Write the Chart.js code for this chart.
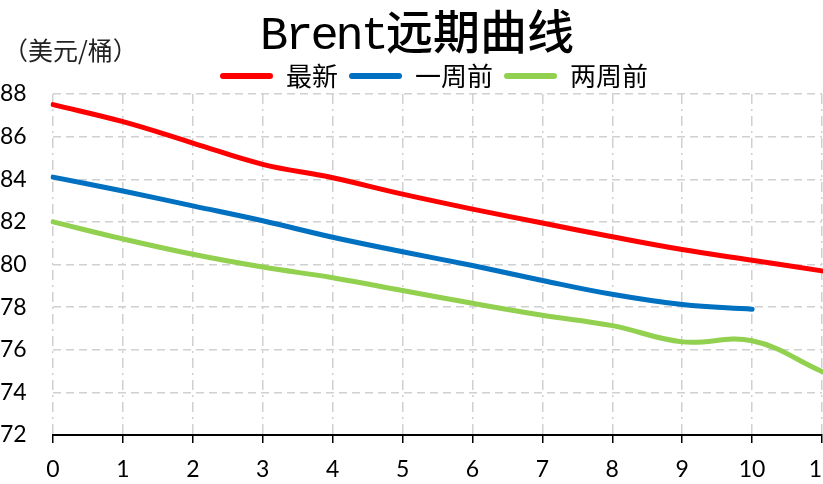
<!DOCTYPE html>
<html>
<head>
<meta charset="utf-8">
<script src="https://cdn.jsdelivr.net/npm/chart.js@4/dist/chart.umd.min.js"></script>
<style>
  html, body { margin: 0; padding: 0; background: #fff; overflow: hidden; width: 823px; height: 484px; }
  #wrap { position: absolute; left: 0; top: 0; width: 850px; height: 484px; }
  #title { position: absolute; top: 4px; left: 0; width: 834px; line-height: 50px; text-align: center; white-space: nowrap; color: #000; }
  #title .lat { font-family: "Liberation Mono", monospace; font-size: 47px; letter-spacing: -3px; }
  #title .cjk { font-family: "Noto Sans CJK SC", sans-serif; font-size: 47px; font-weight: 500; }
  #unit { position: absolute; left: 3px; top: 31px; font-family: "Noto Sans CJK SC", sans-serif; font-size: 25px; color: #222; }
</style>
</head>
<body>
<div id="wrap"><canvas id="chart"></canvas></div>
<div id="title"><span class="lat">Brent</span><span class="cjk">远期曲线</span></div>
<div id="unit">（美元/桶）</div>
<script>
// months ahead on the forward curve
const months = ['0', '1', '2', '3', '4', '5', '6', '7', '8', '9', '10', '11'];
const seriesNames = ['最新', '一周前', '两周前'];
const seriesColors = ['#ff0000', '#0070c0', '#92d050'];

// USD per barrel
const latest = [87.5, 86.7, 85.7, 84.7, 84.07, 83.3, 82.6, 81.95, 81.3, 80.7, 80.2, 79.7];
const oneWeekAgo = [84.1, 83.45, 82.75, 82.05, 81.28, 80.6, 79.95, 79.25, 78.6, 78.12, 77.9];
const twoWeeksAgo = [82.0, 81.2, 80.48, 79.88, 79.38, 78.78, 78.18, 77.62, 77.13, 76.37, 76.42, 74.98];

const yMin = 72, yMax = 88, yStep = 2;

const tickFont = { family: 'Lato, "Noto Sans", sans-serif', size: 23 };
const gridGray = '#d0d0d0';

const makeSet = (label, data, color) => ({
    label, data,
    borderColor: color, backgroundColor: color,
    borderWidth: 5, pointRadius: 0, pointHoverRadius: 0,
    tension: 0.4, fill: false, borderCapStyle: 'round', borderJoinStyle: 'round'
});

// nudge the legend right/down without touching the plot area
const legendNudge = {
    id: 'legendNudge',
    afterLayout(chart) {
        const lg = chart.legend;
        if (!lg) return;
        lg.left += 23; lg.right += 23;
        lg.top += 5; lg.bottom += 5;
    }
};

new Chart(document.getElementById('chart'), {
    type: 'line',
    data: {
        labels: months,
        datasets: [
            makeSet(seriesNames[0], latest, seriesColors[0]),
            makeSet(seriesNames[1], oneWeekAgo, seriesColors[1]),
            makeSet(seriesNames[2], twoWeeksAgo, seriesColors[2])
        ]
    },
    options: {
        responsive: true, maintainAspectRatio: false, animation: false,
        layout: { padding: { top: 47, right: 28, left: 0, bottom: 0 } },
        plugins: {
            tooltip: { enabled: false },
            legend: {
                position: 'top',
                labels: {
                    boxWidth: 53, boxHeight: 6, useBorderRadius: true, borderRadius: 3,
                    padding: 11, color: '#000',
                    font: { family: '"Noto Sans CJK SC", sans-serif', size: 26 },
                    generateLabels: (chart) => Chart.defaults.plugins.legend.labels.generateLabels(chart)
                        .map(l => ({ ...l, lineWidth: 0 }))
                }
            }
        },
        scales: {
            x: {
                offset: false,
                afterFit: (s) => { s.height = 49; },
                grid: { color: gridGray, lineWidth: 1.5, tickColor: '#000', tickLength: 8, tickWidth: 1.5 },
                border: { display: true, color: '#000', width: 2, dash: [10, 5, 2, 5] },
                ticks: { color: '#000', font: tickFont, padding: 13, maxRotation: 0, autoSkip: false }
            },
            y: {
                min: yMin, max: yMax,
                afterFit: (s) => { s.width = 53; },
                grid: { color: gridGray, lineWidth: 1.5, drawTicks: false },
                border: { display: false, dash: [8, 5] },
                ticks: { stepSize: yStep, color: '#000', font: tickFont, crossAlign: 'far', padding: 0 }
            }
        }
    },
    plugins: [legendNudge]
});
</script>
</body>
</html>
